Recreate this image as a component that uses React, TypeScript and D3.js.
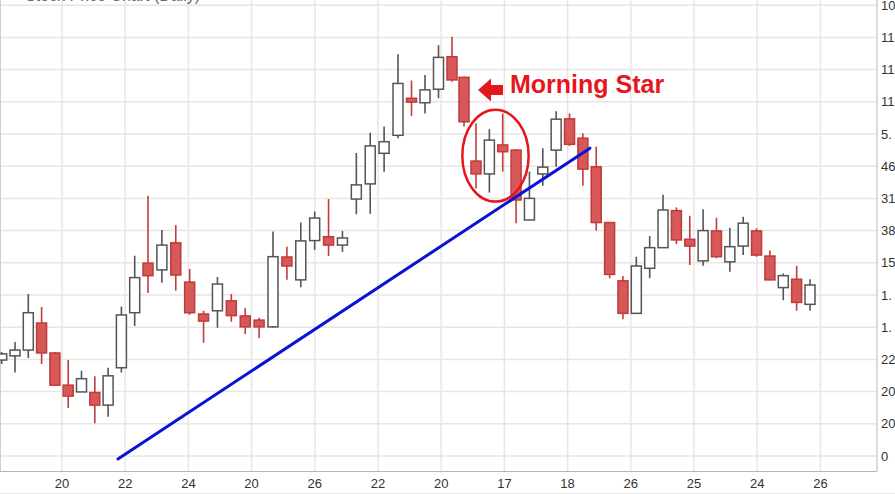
import React from 'react';
import * as d3 from 'd3';

const openV = [29.8,31.1,32.9,41.3,32.0,22.0,19.9,19.7,15.8,27.4,44.5,59.9,57.8,66.2,54.0,44.1,45.1,48.2,43.5,42.2,40.1,61.8,54.7,66.9,68.1,65.5,79.8,84.5,94.0,99.6,111.1,109.7,113.9,124.0,117.6,91.6,87.6,96.6,95.0,73.3,87.6,95.0,104.7,98.7,89.8,72.5,54.4,44.3,58.3,64.7,76.2,67.3,60.6,69.9,60.3,65.2,69.9,62.1,52.3,54.9,47.1];
const closeV = [31.7,32.9,44.5,32.0,22.0,18.6,24.0,15.8,24.9,43.8,55.4,56.0,65.5,56.2,44.5,41.9,53.4,43.6,40.1,40.1,61.9,59.0,66.8,73.9,65.5,67.7,84.2,96.3,97.6,115.7,109.9,113.7,123.8,116.8,103.8,87.6,98.1,94.5,79.5,80.0,89.7,104.6,96.8,89.1,72.5,56.4,44.3,59.0,64.7,76.4,67.1,65.2,70.0,61.9,65.0,72.3,62.4,54.7,56.0,47.7,53.1];
const highV = [32.3,35.4,50.3,46.3,32.3,29.8,26.5,24.8,27.4,46.4,62.2,80.8,70.2,71.7,58.1,45.1,55.6,50.3,46.0,42.9,69.7,65.0,72.5,75.9,79.8,69.9,94.1,100.4,102.3,124.8,116.6,118.3,127.6,130.2,117.8,103.3,101.5,106.4,95.3,88.3,95.6,107.1,106.4,100.2,96.1,72.5,55.9,61.9,68.3,81.1,77.2,74.6,76.6,74.0,70.9,74.3,70.7,63.8,56.7,59.1,54.9];
const lowV = [28.6,25.9,30.4,28.6,21.9,14.9,19.9,10.2,12.2,25.9,40.4,50.6,53.8,51.3,43.9,35.2,39.8,41.7,37.9,36.6,39.8,54.7,52.4,64.0,62.1,63.4,75.1,75.2,88.3,98.7,105.6,106.4,111.1,116.2,102.3,83.1,81.8,88.3,72.3,73.3,83.9,89.8,96.3,83.9,70.0,55.2,42.5,44.3,55.2,64.7,65.8,59.3,59.1,61.4,57.2,62.4,61.9,54.7,48.4,45.1,45.1];

const xTickLabels = ['20','22','24','20','26','22','20','17','18','26','25','24','26'];
const yTickValues = [0,10,20,30,40,50,60,70,80,90,100,110,120,130,140];
const yTickLabels = ['0','20','20','22','1.','1.','15','38','31','46','5.','11','11','11','10'];

// trendline endpoints: [candle index, value]
const trendStart = [8.74, -0.9];
const trendEnd = [43.53, 95.6];
// Morning Star highlight: index range & value range
const starIdx = [33.86, 38.94];
const starVal = [79.0, 107.5];
// arrow tip [index, value]
const arrowTip = [35.15, 113.7];
const annotationText = 'Morning Star';
const titleText = 'Stock Price Chart (Daily)';

export default function App() {
  const W = 895, H = 494;
  const plotRight = 877, plotBottom = 471.5;
  const x = d3.scaleLinear().domain([1, 11, 29, 33, 35, 60]).range([15, 148, 398, 452, 476, 810]);
  const y = d3.scaleLinear().domain([0, 140]).range([456, 5.2]);
  const xt = d3.scaleLinear().domain([0, xTickLabels.length - 1]).range([62, 820.4]);
  const bodyW = 10;
  const red = '#d65858', redStroke = '#c23a3a', grayStroke = '#555';
  const annRed = '#e5161c';
  const font = '"Liberation Sans", Arial, sans-serif';

  const candles = openV.map((o, i) => ({ i, o, c: closeV[i], h: highV[i], l: lowV[i] }));

  const ex0 = x(starIdx[0]), ex1 = x(starIdx[1]);
  const ey0 = y(starVal[1]), ey1 = y(starVal[0]);
  const tx = x(arrowTip[0]), ty = y(arrowTip[1]);

  const arrowPath = d3.path();
  arrowPath.moveTo(tx, ty);
  arrowPath.lineTo(tx + 13, ty - 11.5);
  arrowPath.lineTo(tx + 13, ty - 5);
  arrowPath.lineTo(tx + 25, ty - 5);
  arrowPath.lineTo(tx + 25, ty + 5);
  arrowPath.lineTo(tx + 13, ty + 5);
  arrowPath.lineTo(tx + 13, ty + 11.5);
  arrowPath.closePath();

  return (
    <svg width={W} height={H} style={{ position: 'fixed', left: 0, top: 0, background: '#fff' }} fontFamily={font}>
      <defs>
        <clipPath id="plotClip">
          <rect x={0} y={0} width={plotRight} height={plotBottom} />
        </clipPath>
      </defs>
      <rect x={0} y={0} width={W} height={H} fill="#fff" />
      {/* grid */}
      <g stroke="#e6e6e6" strokeWidth={1.5}>
        {yTickValues.map((v) => (
          <line key={'h' + v} x1={0} x2={plotRight} y1={y(v)} y2={y(v)} />
        ))}
        {xTickLabels.map((_, k) => (
          <line key={'v' + k} x1={xt(k)} x2={xt(k)} y1={0} y2={plotBottom} />
        ))}
      </g>
      <text x={25} y={1} fontSize={16} fill="#666">{titleText}</text>
      {/* borders */}
      <line x1={0.5} x2={0.5} y1={0} y2={plotBottom} stroke="#cfcfcf" strokeWidth={1} />
      <line x1={0} x2={plotRight} y1={plotBottom} y2={plotBottom} stroke="#b5b5b5" strokeWidth={1.2} />
      <line x1={plotRight} x2={plotRight} y1={0} y2={plotBottom} stroke="#c5c5c5" strokeWidth={1.2} />
      <line x1={0} x2={W} y1={493.5} y2={493.5} stroke="#ececec" strokeWidth={1} />
      {/* candles */}
      <g clipPath="url(#plotClip)">
        {candles.map((d) => {
          const up = d.c >= d.o;
          const cx = x(d.i);
          const top = y(Math.max(d.o, d.c));
          const bot = y(Math.min(d.o, d.c));
          return (
            <g key={d.i}>
              <line x1={cx} x2={cx} y1={y(d.h)} y2={y(d.l)} stroke={up ? grayStroke : redStroke} strokeWidth={1.6} />
              <rect x={cx - bodyW / 2} y={top} width={bodyW} height={Math.max(1.5, bot - top)}
                fill={up ? '#fff' : red} stroke={up ? grayStroke : redStroke} strokeWidth={1.5} />
            </g>
          );
        })}
        {/* trendline */}
        <line x1={x(trendStart[0])} y1={y(trendStart[1])} x2={x(trendEnd[0])} y2={y(trendEnd[1])}
          stroke="#0b12d6" strokeWidth={3} strokeLinecap="round" />
        {/* highlight ellipse */}
        <ellipse cx={(ex0 + ex1) / 2} cy={(ey0 + ey1) / 2} rx={(ex1 - ex0) / 2} ry={(ey1 - ey0) / 2}
          fill="none" stroke={annRed} strokeWidth={2.5} />
        <path d={arrowPath.toString()} fill={annRed} />
        <text x={tx + 32} y={ty + 3} fontSize={25} fontWeight="bold" fill={annRed}>{annotationText}</text>
      </g>
      {/* axes labels */}
      {yTickValues.map((v, k) => (
        <text key={'yl' + v} x={881} y={y(v)} dy="0.35em" fontSize={13} fill="#333">{yTickLabels[k]}</text>
      ))}
      {xTickLabels.map((t, k) => (
        <text key={'xl' + k} x={xt(k)} y={488} textAnchor="middle" fontSize={13} fill="#333">{t}</text>
      ))}
    </svg>
  );
}
